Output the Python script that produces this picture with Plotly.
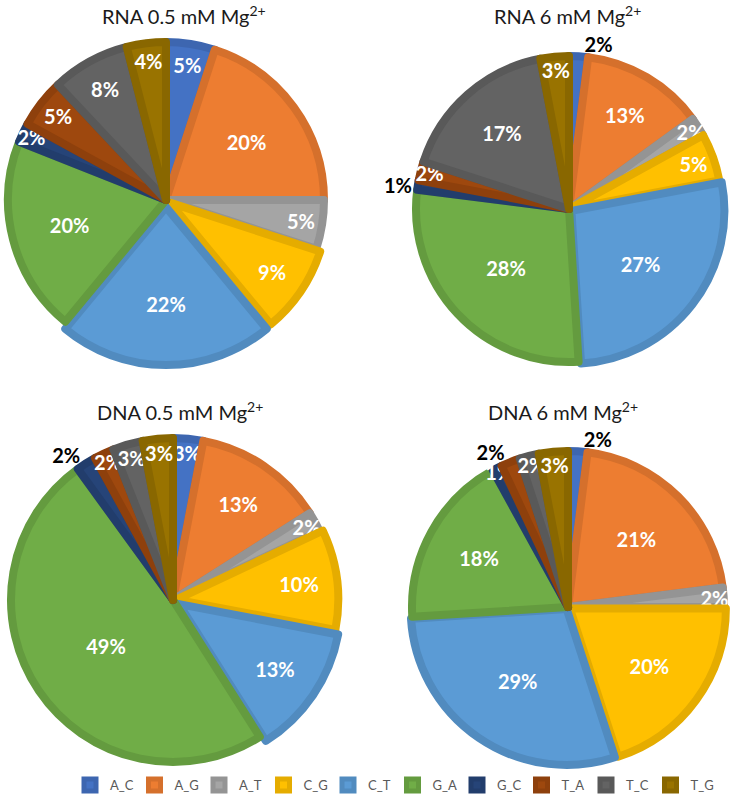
import plotly.graph_objects as go

# ---- data ----
labels = ["A_C", "A_G", "A_T", "C_G", "C_T", "G_A", "G_C", "T_A", "T_C", "T_G"]
rna_05 = [5, 20, 5, 9, 22, 20, 2, 5, 8, 4]
rna_6 = [2, 13, 2, 5, 27, 28, 1, 2, 17, 3]
dna_05 = [3, 13, 2, 10, 13, 49, 2, 2, 3, 3]
dna_6 = [2, 21, 2, 20, 29, 18, 1, 2, 2, 3]
panel_titles = ["RNA 0.5 mM Mg<sup>2+</sup>", "RNA 6 mM Mg<sup>2+</sup>",
                "DNA 0.5 mM Mg<sup>2+</sup>", "DNA 6 mM Mg<sup>2+</sup>"]

# ---- styles ----
fills = ["#4472C4", "#ED7D31", "#A5A5A5", "#FFC000", "#5B9BD5",
         "#70AD47", "#264478", "#9E480E", "#636363", "#997300"]


def darken(hexcol, f=0.9):
    h = hexcol.lstrip("#")
    r, g, b = (int(h[i:i + 2], 16) for i in (0, 2, 4))
    return "#%02X%02X%02X" % (int(r * f), int(g * f), int(b * f))


borders = [darken(c) for c in fills]

W, H = 730, 800
LW = 8


def domain(cx, cy, r, maxpull):
    h = r * (1 + maxpull)
    return dict(x=[max(0, (cx - h) / W), min(1, (cx + h) / W)],
                y=[max(0, 1 - (cy + h) / H), min(1, 1 - (cy - h) / H)])


I, O = "inside", "outside"
panels = [
    dict(vals=rna_05, cx=166, cy=200, r=158,
         pull=[0, 0, 0, 0.03, 0.045, 0, 0, 0, 0, 0],
         pos=[I] * 10, tx=184, ty=0),
    dict(vals=rna_6, cx=569, cy=209, r=153,
         pull=[0, 0, 0, 0, 0.02, 0, 0, 0, 0, 0],
         pos=[O, I, I, I, I, I, O, I, I, I], tx=567, ty=0),
    dict(vals=dna_05, cx=173, cy=600, r=162,
         pull=[0, 0, 0, 0.02, 0.045, 0, 0, 0, 0, 0],
         pos=[I, I, I, I, I, I, O, I, I, I], tx=180, ty=396),
    dict(vals=dna_6, cx=568, cy=607, r=156,
         pull=[0, 0, 0, 0.015, 0.015, 0, 0, 0, 0, 0],
         pos=[O, I, I, I, I, I, I, O, I, I], tx=563, ty=396),
]

FONT = "Lato"
fig = go.Figure()
for k, p in enumerate(panels):
    fig.add_trace(go.Pie(
        labels=labels, values=p["vals"], sort=False, direction="clockwise",
        rotation=0, pull=p["pull"], domain=domain(p["cx"], p["cy"], p["r"], max(p["pull"])),
        marker=dict(colors=fills, line=dict(color=borders, width=LW)),
        texttemplate="%{percent:.0%}", textposition=p["pos"],
        insidetextorientation="horizontal",
        insidetextfont=dict(family=FONT, size=20, color="white", weight="bold"),
        outsidetextfont=dict(family=FONT, size=20, color="black", weight="bold"),
        showlegend=(k == 0), hoverinfo="label+percent",
    ))
    fig.add_annotation(text=panel_titles[k], x=p["tx"] / W, y=1 - p["ty"] / H,
                       xref="paper", yref="paper", xanchor="center", yanchor="top",
                       showarrow=False, font=dict(family=FONT, size=20, color="#1a1a1a"))

fig.update_layout(
    width=W, height=H, margin=dict(l=0, r=0, t=0, b=0, autoexpand=False),
    paper_bgcolor="white", plot_bgcolor="white",
    font=dict(family=FONT),
    uniformtext=dict(minsize=20, mode="show"),
    legend=dict(orientation="h", x=70 / W, xanchor="left", y=0, yanchor="bottom",
                font=dict(family=FONT, size=13, color="#595959"),
                entrywidth=64.5 / W, entrywidthmode="fraction", traceorder="normal"),
)
fig.write_html("out.html", config={"displayModeBar": False},
               post_script="document.body.style.margin='0';")
